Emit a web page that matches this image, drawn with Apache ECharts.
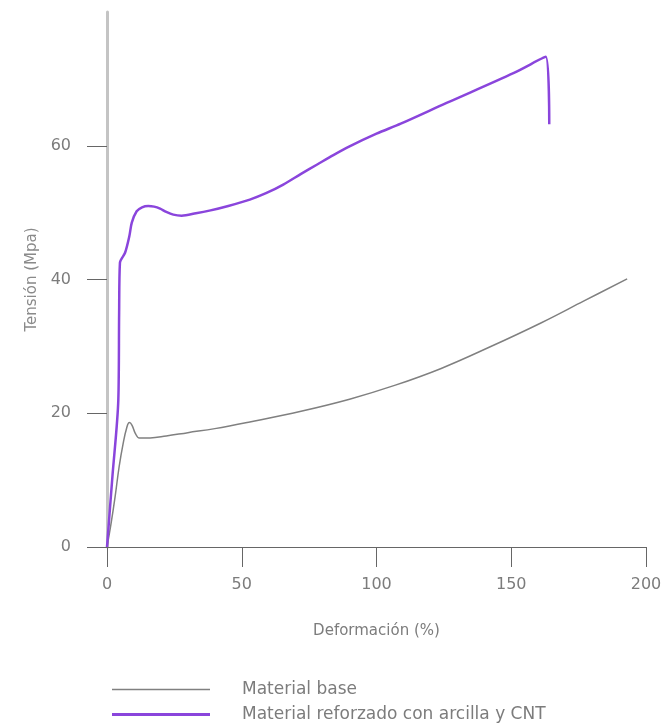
<!DOCTYPE html>
<html>
<head>
<meta charset="utf-8">
<script src="https://cdn.jsdelivr.net/npm/echarts@6/dist/echarts.min.js"></script>
<style>
  html, body { margin: 0; padding: 0; background: #fff; }
  #root { width: 672px; height: 727px; }
</style>
</head>
<body>
<div id="root"></div>
<script>
// curve data: [deformación %, tensión MPa]
var baseName = 'Material base';
var cntName = 'Material reforzado con arcilla y CNT';

var baseCurve = [
  [0, 0], [1.5, 3.5], [3, 7.5], [4.5, 12], [6, 15.5], [7.3, 17.8], [8.3, 18.6],
  [9.3, 18.2], [10.5, 17], [12, 16.3], [16, 16.3], [22, 16.6], [30, 17.1],
  [40, 17.7], [53, 18.7], [72, 20.3], [90, 22.1], [107, 24.2], [124, 26.7],
  [142, 29.9], [161, 33.5], [177, 36.8], [193, 40.1]
];

var cntCurve = [
  [0, 0], [2, 10.5], [4.2, 22], [4.5, 35], [4.8, 42.5], [6.7, 44], [8.3, 46.5],
  [9.2, 48.5], [11, 50.2], [13, 50.8], [15.3, 51], [17.5, 50.9], [19.7, 50.6],
  [22, 50.1], [24.6, 49.7], [27.7, 49.55], [33, 49.9], [38, 50.3], [45, 51],
  [53, 51.95], [59, 52.9], [65.4, 54.2], [72, 55.8], [78, 57.2], [84, 58.6],
  [90, 59.9], [100, 61.8], [109, 63.3], [126, 66.4], [151, 70.9],
  [162.8, 73.3], [164.1, 63.2]
];

var xTicks = [0, 50, 100, 150, 200];
var yTicks = [0, 20, 40, 60];

var font = '"DejaVu Sans", "Noto Sans", sans-serif';
var txt = '#7c7c7c';
var myChart = echarts.init(document.getElementById('root'), null, { renderer: 'canvas' });

function legendRow(name, top, thick) {
  return {
    left: 107,
    top: top,
    icon: 'rect',
    itemWidth: 98,
    itemHeight: thick,
    textStyle: { color: txt, fontSize: 17, fontFamily: font, padding: [0, 0, 0, 27] },
    data: [name]
  };
}

var option = {
  animation: false,
  backgroundColor: '#fff',
  textStyle: { fontFamily: font },
  grid: { left: 107, right: 26, top: 12, bottom: 180 },
  legend: [legendRow(baseName, 676, 1.5), legendRow(cntName, 701, 3)],
  xAxis: {
    type: 'value',
    min: 0,
    max: 200,
    interval: 50,
    name: 'Deformación (%)',
    nameLocation: 'middle',
    nameGap: 77,
    nameTextStyle: { color: txt, fontSize: 15, fontFamily: font },
    axisLine: { lineStyle: { color: '#666', width: 1 } },
    axisTick: { show: true, length: 20, lineStyle: { color: '#666' }, customValues: xTicks },
    axisLabel: { color: txt, fontSize: 16, margin: 30, customValues: xTicks },
    splitLine: { show: false }
  },
  yAxis: {
    type: 'value',
    min: 0,
    max: 80,
    interval: 20,
    name: 'Tensión (Mpa)',
    nameLocation: 'middle',
    nameGap: 64,
    nameTextStyle: { color: '#8a8a8a', fontSize: 15, fontFamily: font },
    axisLine: { show: true, lineStyle: { color: '#c4c4c4', width: 3 } },
    axisTick: { show: true, length: 20, lineStyle: { color: '#666' }, customValues: yTicks },
    axisLabel: { color: txt, fontSize: 16, margin: 36, customValues: yTicks },
    splitLine: { show: false }
  },
  series: [
    {
      name: baseName,
      type: 'line',
      data: baseCurve,
      smooth: 0.4,
      symbol: 'none',
      lineStyle: { color: '#808080', width: 1.5 },
      itemStyle: { color: '#808080' },
      z: 2
    },
    {
      name: cntName,
      type: 'line',
      data: cntCurve,
      smooth: 0.3,
      symbol: 'none',
      lineStyle: { color: '#8a45dc', width: 2.5 },
      itemStyle: { color: '#8a45dc' },
      z: 3
    }
  ]
};
myChart.setOption(option);
</script>
</body>
</html>
